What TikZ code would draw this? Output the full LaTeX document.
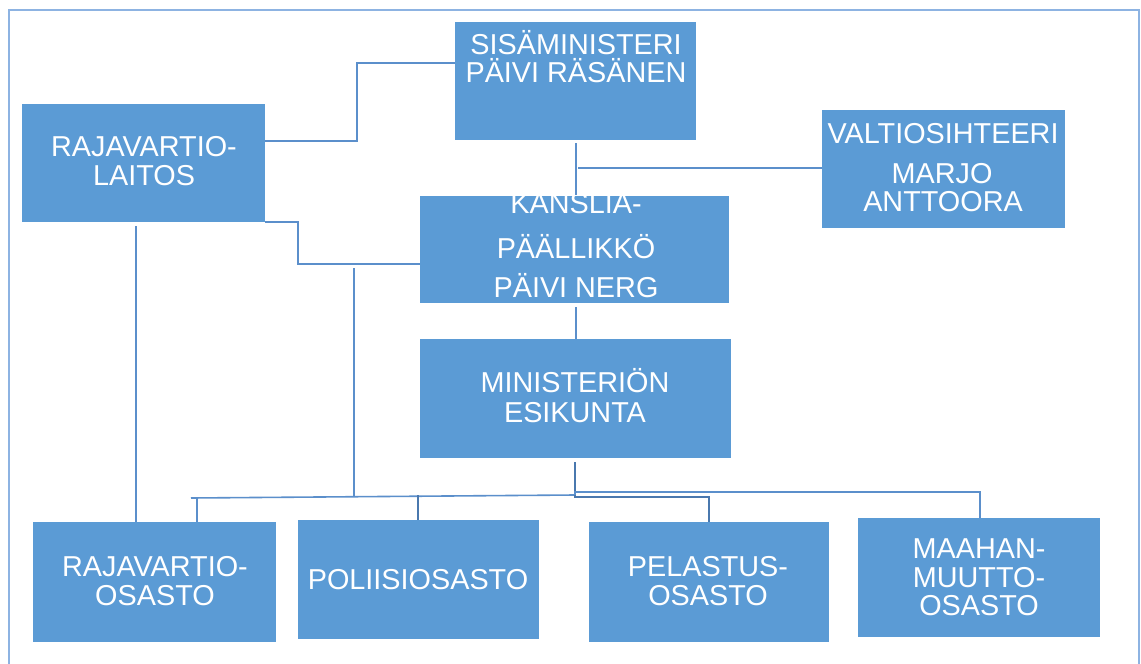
\documentclass[tikz,border=0pt]{standalone}
\usepackage{fontspec}
\setmainfont{Liberation Sans}
\definecolor{boxblue}{HTML}{5B9BD5}
\definecolor{framec}{HTML}{8DB3E2}
\definecolor{linec}{HTML}{5B8FCB}
\definecolor{linedk}{HTML}{4A78AE}
\tikzset{
  orgbox/.style={draw=none, fill=boxblue, rectangle, inner sep=0pt, outer sep=0pt, anchor=north west},
  lbl/.style={text=white, font=\fontsize{28.8}{30}\selectfont, inner sep=0pt, anchor=base},
  conn/.style={draw=linec, line width=1.6pt},
  conndk/.style={draw=linedk, line width=1.6pt},
}
\begin{document}
\begin{tikzpicture}[x=1pt, y=-1pt]
\useasboundingbox (0,0) rectangle (1141,664);
\fill[white] (0,0) rectangle (1141,664);
\draw[framec, line width=2pt] (9,10) rectangle (1139,680);

% boxes
\node[orgbox, minimum width=241pt, minimum height=118pt] (sis) at (455,22) {};
\node[orgbox, minimum width=243pt, minimum height=118pt] (raja) at (22,104) {};
\node[orgbox, minimum width=243pt, minimum height=118pt] (valt) at (822,110) {};
\node[orgbox, minimum width=309pt, minimum height=107pt] (kans) at (420,196) {};
\node[orgbox, minimum width=311pt, minimum height=119pt] (esik) at (420,339) {};
\node[orgbox, minimum width=243pt, minimum height=120pt] (rosa) at (33,522) {};
\node[orgbox, minimum width=241pt, minimum height=119pt] (poli) at (298,520) {};
\node[orgbox, minimum width=240pt, minimum height=120pt] (pela) at (589,522) {};
\node[orgbox, minimum width=242pt, minimum height=119pt] (maah) at (858,518) {};

% texts
\node[lbl] (t1a) at (576,54) {SISÄMINISTERI};
\node[lbl] (t1b) at (576,82) {PÄIVI RÄSÄNEN};
\node[lbl] (t2a) at (144,156) {RAJAVARTIO-};
\node[lbl] (t2b) at (144,185) {LAITOS};
\node[lbl] (t3a) at (943,143) {VALTIOSIHTEERI};
\node[lbl] (t3b) at (942,183) {MARJO};
\node[lbl] (t3c) at (943,211) {ANTTOORA};
\node[lbl] (t4a) at (576,213) {KANSLIA-};
\node[lbl] (t4b) at (576,258) {PÄÄLLIKKÖ};
\node[lbl] (t4c) at (576,297) {PÄIVI NERG};
\node[lbl] (t5a) at (575,392) {MINISTERIÖN};
\node[lbl] (t5b) at (575,422) {ESIKUNTA};
\node[lbl] (t6a) at (155,576) {RAJAVARTIO-};
\node[lbl] (t6b) at (155,605) {OSASTO};
\node[lbl] (t7a) at (418,589) {POLIISIOSASTO};
\node[lbl] (t8a) at (708,576) {PELASTUS-};
\node[lbl] (t8b) at (708,605) {OSASTO};
\node[lbl] (t9a) at (979,558) {MAAHAN-};
\node[lbl] (t9b) at (979,587) {MUUTTO-};
\node[lbl] (t9c) at (979,615) {OSASTO};

% connectors
\coordinate (b1) at (357,141);
\coordinate (b2) at (357,63);
\draw[conn] (raja.east |- b1) -- (b1) -- (b2) -- (sis.west |- b2);

\coordinate (v1) at (576,143);
\coordinate (v2) at (576,195);
\draw[conn] (v1) -- (v2);
\coordinate (h1) at (578,168);
\draw[conn] (h1) -- (valt.west |- h1);

\coordinate (c1) at (298,222);
\coordinate (c2) at (298,264);
\draw[conn] (raja.south east) -- (c1) -- (c2) -- (kans.west |- c2);
\coordinate (d1) at (354,268);
\coordinate (d2) at (354,497);
\draw[conn] (d1) -- (d2);

\coordinate (e1) at (136,226);
\draw[conn] (e1) -- (rosa.north -| e1);

\coordinate (k1) at (576,307);
\draw[conn] (k1) -- (esik.north -| k1);

\coordinate (bus) at (575,495);
\coordinate (bl) at (191,498);
\coordinate (br1) at (197,498);
\draw[conndk] (esik.south -| bus) ++(0,4) -- (bus);
\draw[conn] (bus) -- (bl);
\draw[conn] (br1) -- (rosa.north -| br1);
\coordinate (pb) at (418,495);
\draw[conndk] (pb) -- (poli.north -| pb);
\coordinate (m1) at (575,492);
\coordinate (m2) at (980,492);
\draw[conn] (bus) -- (m1) -- (m2) -- (maah.north -| m2);
\coordinate (p1) at (575,497);
\coordinate (p2) at (709,497);
\draw[conndk] (bus) -- (p1) -- (p2) -- (pela.north -| p2);
\end{tikzpicture}
\end{document}
